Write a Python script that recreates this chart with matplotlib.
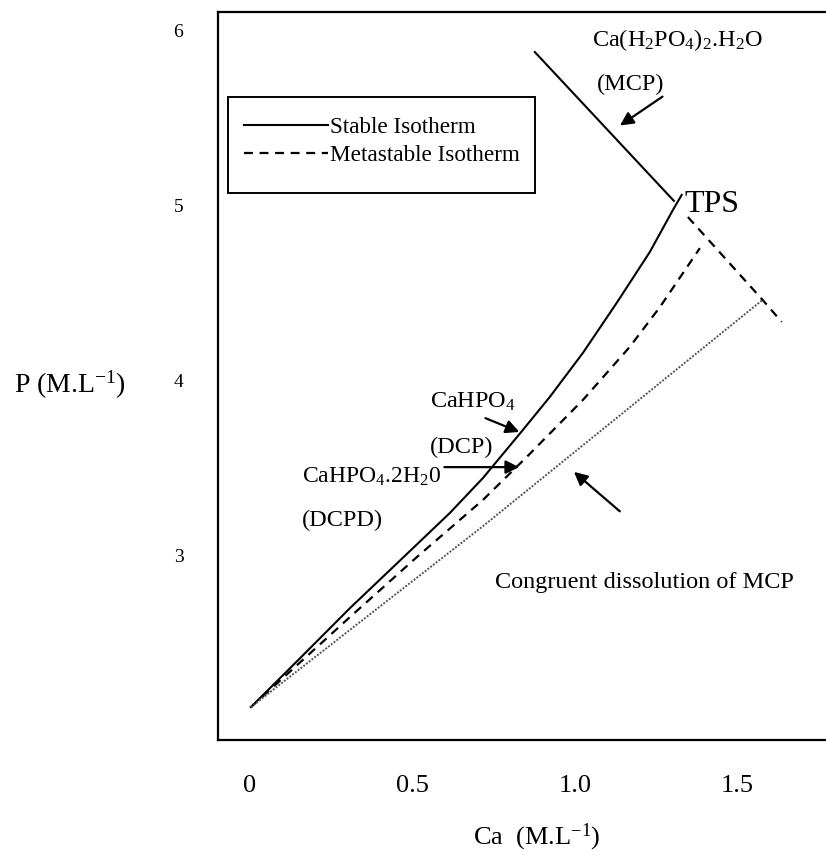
import matplotlib
matplotlib.use("Agg")
import matplotlib.pyplot as plt
from matplotlib.patches import Rectangle

plt.rcParams["font.family"] = "Liberation Serif"
plt.rcParams["mathtext.fontset"] = "custom"
plt.rcParams["mathtext.rm"] = "Liberation Serif"
plt.rcParams["mathtext.it"] = "Liberation Serif:italic"
plt.rcParams["mathtext.default"] = "regular"

# ── isotherm data (Ca, P in M/L) ──────────────────────────────────────────────
stable_ca = [0.003, 0.154, 0.308, 0.502, 0.615, 0.717, 0.840, 0.923, 1.025, 1.129, 1.231, 1.302, 1.329]
stable_p  = [2.131, 2.410, 2.697, 3.040, 3.240, 3.440, 3.715, 3.904, 4.156, 4.442, 4.733, 4.973, 5.059]

mcp_ca = [0.877, 1.305]
mcp_p  = [5.876, 5.025]

dcpd_ca = [0.003, 0.308, 0.514, 0.717, 0.852, 1.025, 1.169, 1.262, 1.385]
dcpd_p  = [2.131, 2.646, 2.989, 3.315, 3.561, 3.887, 4.190, 4.418, 4.755]

meta_mcp_ca = [1.348, 1.578, 1.637]
meta_mcp_p  = [4.933, 4.459, 4.333]

congruent_ca = [0.003, 0.717, 1.578]
congruent_p  = [2.131, 3.165, 4.459]

xticks = [0, 0.5, 1.0, 1.5]
xtick_labels = ["0", "0.5", "1.0", "1.5"]
yticks = [3, 4, 5, 6]

# ── figure ────────────────────────────────────────────────────────────────────
fig = plt.figure(figsize=(8.26, 8.55), dpi=100)
ax = fig.add_axes([0.264, 0.1345, 0.743, 0.8515])

dash = (0, (4, 3))
ax.plot(stable_ca, stable_p, color="black", lw=1.5, solid_joinstyle="round",
        label="Stable Isotherm")
ax.plot(mcp_ca, mcp_p, color="black", lw=1.5)
ax.plot(dcpd_ca, dcpd_p, color="black", lw=1.6, linestyle=dash,
        label="Metastable Isotherm")
ax.plot(meta_mcp_ca, meta_mcp_p, color="black", lw=1.6, linestyle=dash)
ax.plot(congruent_ca, congruent_p, color="#555555", lw=1.4,
        linestyle=(0, (1, 0.8)))

ax.set_xlim(-0.098, 1.791)
ax.set_ylim(1.943, 6.105)
ax.set_xticks(xticks)
ax.set_xticklabels(xtick_labels)
ax.set_yticks(yticks)
ax.tick_params(axis="x", length=0, pad=25, labelsize=19)
ax.tick_params(axis="y", length=0, pad=25, labelsize=14)
for s in ax.spines.values():
    s.set_linewidth(1.6)

ax.set_xlabel(r"Ca  (M.L$^{-1}$)", fontsize=19)
ax.xaxis.set_label_coords(0.52, -0.112)
ax.set_ylabel(r"P (M.L$^{-1}$)", fontsize=20, rotation=0, va="center", ha="center")
ax.yaxis.set_label_coords(-0.241, 0.488)

# legend: entries without frame, boxed by a plain rectangle
ax.add_patch(Rectangle((0.0163, 0.751), 0.4997, 0.132, transform=ax.transAxes,
                       fill=False, edgecolor="black", lw=1.4, zorder=3))
leg = ax.legend(loc="upper left", bbox_to_anchor=(0.043, 0.856),
                fontsize=16.7, frameon=False,
                handlelength=3.6, handletextpad=0.1, borderpad=0,
                labelspacing=0.3, borderaxespad=0)

# ── labels and arrows ─────────────────────────────────────────────────────────
fs = 17.5
arrow = dict(arrowstyle="-|>", color="black", lw=1.6, mutation_scale=20)

ax.text(1.052, 5.944, r"Ca(H$_2$PO$_4$)$_2$.H$_2$O", fontsize=fs, va="center")
ax.text(1.068, 5.688, "(MCP)", fontsize=fs, va="center")
ax.annotate("", xy=(1.132, 5.447), xytext=(1.277, 5.630), arrowprops=arrow)

ax.text(1.338, 5.002, "TPS", fontsize=23, va="center")

ax.text(0.554, 3.875, r"CaHPO$_4$", fontsize=fs, va="center")
ax.text(0.554, 3.618, "(DCP)", fontsize=fs, va="center")
ax.annotate("", xy=(0.837, 3.698), xytext=(0.717, 3.789), arrowprops=arrow)

ax.text(0.16, 3.446, r"CaHPO$_4$.2H$_2$0", fontsize=17, va="center")
ax.text(0.16, 3.200, "(DCPD)", fontsize=fs, va="center")
ax.annotate("", xy=(0.837, 3.503), xytext=(0.59, 3.503), arrowprops=arrow)

ax.text(0.754, 2.846, "Congruent dissolution of MCP", fontsize=fs, va="center")
ax.annotate("", xy=(0.991, 3.486), xytext=(1.145, 3.240), arrowprops=arrow)

fig.savefig("out.png", dpi=100)
